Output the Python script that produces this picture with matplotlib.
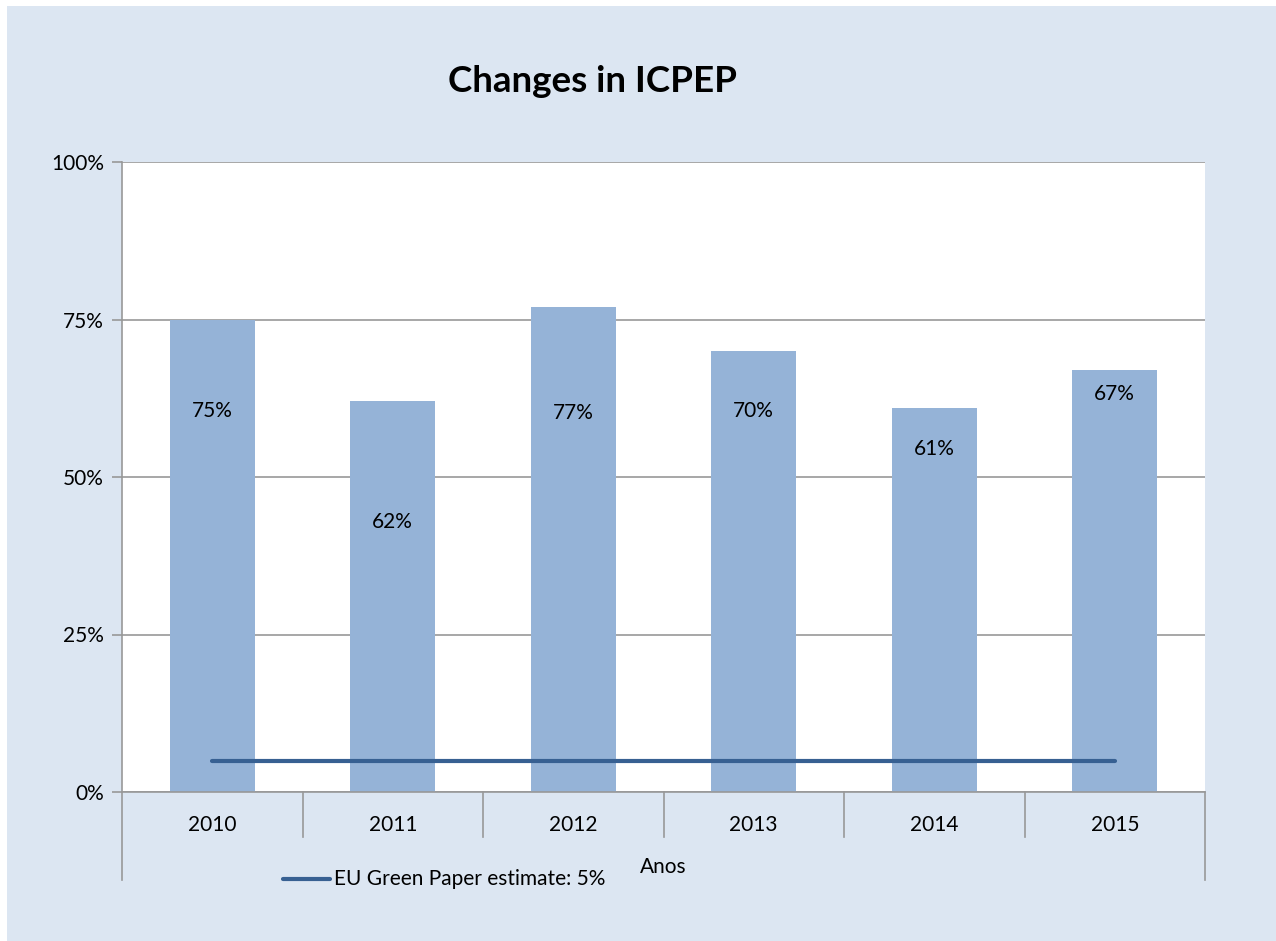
import matplotlib.pyplot as plt
import matplotlib.patches as mpatches
from matplotlib.lines import Line2D

# Данные
years = ['2010', '2011', '2012', '2013', '2014', '2015']
icpep = [75, 62, 77, 70, 61, 67]
green_paper = [5, 5, 5, 5, 5, 5]
# высота подписей внутри столбцов (в процентах по оси Y)
label_y = [60.5, 42.9, 60.2, 60.5, 54.4, 63.2]
group_label = 'Anos'

bar_color = '#95b3d7'
line_color = '#376092'
grid_color = '#989898'
bg_color = '#dce6f2'
fs = 15

plt.rcParams['font.family'] = ['Lato', 'DejaVu Sans']

W, H = 1276, 941
fig = plt.figure(figsize=(W / 100, H / 100), dpi=100, facecolor='white')

# Фон области диаграммы
fig.patches.append(mpatches.Rectangle((7 / W, -0.01), 1, 1.01 - 6 / H, transform=fig.transFigure,
                                      facecolor=bg_color, edgecolor='none', zorder=-10))

# Область построения
x0, x1, y0, y1 = 122, 1205, 162, 792
ax = fig.add_axes([x0 / W, 1 - y1 / H, (x1 - x0) / W, (y1 - y0) / H])
ax.set_facecolor('white')

pos = list(range(len(years)))
ax.bar(pos, icpep, width=0.47, color=bar_color, zorder=2)
ax.plot(pos, green_paper, color=line_color, lw=3, solid_capstyle='round', zorder=3)

for p, v, ly in zip(pos, icpep, label_y):
    ax.text(p, ly, f'{v}%', ha='center', va='center', fontsize=fs, color='black', zorder=4)

ax.set_xlim(-0.5, len(years) - 0.5)
ax.set_ylim(0, 100)
ax.set_yticks([0, 25, 50, 75, 100])
ax.set_yticklabels(['0%', '25%', '50%', '75%', '100%'])
ax.yaxis.grid(True, color=grid_color, lw=1.2, zorder=1)
ax.tick_params(axis='y', length=7, width=1.2, color=grid_color, labelsize=fs, pad=6)

for s in ['top', 'right']:
    ax.spines[s].set_visible(False)
for s in ['left', 'bottom']:
    ax.spines[s].set_color(grid_color)
    ax.spines[s].set_linewidth(1.2)

# Подписи категорий и разделители между ними
ax.set_xticks([])
for p, y in zip(pos, years):
    ax.text(p, -5.2, y, ha='center', va='center', fontsize=fs, clip_on=False)
for b in range(len(years) + 1):
    bottom = -14 if b in (0, len(years)) else -7.1
    ax.add_line(Line2D([b - 0.5, b - 0.5], [0, bottom], color=grid_color, lw=1.2,
                       clip_on=False, zorder=5))
ax.text((len(years) - 1) / 2, -11.9, group_label, ha='center', va='center', fontsize=fs,
        clip_on=False)

# Легенда
fig.add_artist(Line2D([283 / W, 330 / W], [1 - 879 / H, 1 - 879 / H], color=line_color,
                      lw=3, solid_capstyle='round'))
fig.text(334 / W, 1 - 879 / H, 'EU Green Paper estimate: 5%', ha='left', va='center',
         fontsize=fs)

# Заголовок
fig.text(592 / W, 1 - 82 / H, 'Changes in ICPEP', ha='center', va='center',
         fontsize=26.5, fontweight='bold')

fig.savefig('out.png', dpi=100, facecolor=fig.get_facecolor())
